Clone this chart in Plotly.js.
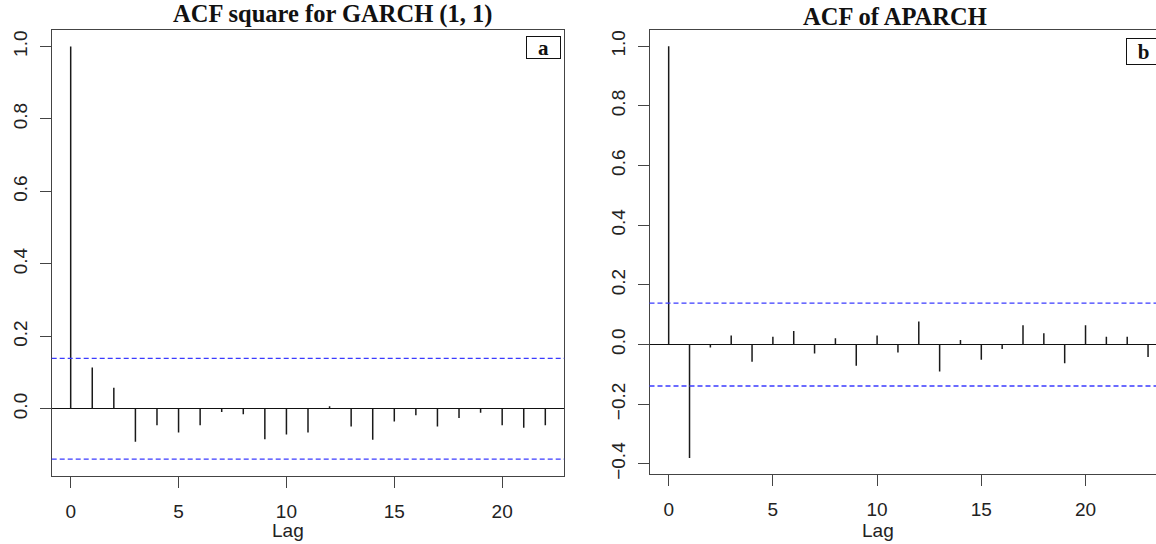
<!DOCTYPE html>
<html>
<head>
<meta charset="utf-8">
<script src="https://cdn.plot.ly/plotly-3.0.1.min.js"></script>
<style>html,body{margin:0;padding:0;background:#fff}#chart{width:1156px;height:544px}</style>
</head>
<body>
<div id="chart"></div>
<script>
// ---- data ----
const lagsA = [0,1,2,3,4,5,6,7,8,9,10,11,12,13,14,15,16,17,18,19,20,21,22];
const acfA  = [1.0, 0.114, 0.058, -0.091, -0.045, -0.065, -0.045, -0.009, -0.015, -0.084, -0.071, -0.065, 0.007, -0.049, -0.085, -0.035, -0.018, -0.049, -0.025, -0.011, -0.045, -0.052, -0.045];
const lagsB = [0,1,2,3,4,5,6,7,8,9,10,11,12,13,14,15,16,17,18,19,20,21,22,23];
const acfB  = [1.0, -0.38, -0.010, 0.030, -0.058, 0.026, 0.045, -0.030, 0.021, -0.071, 0.030, -0.027, 0.077, -0.090, 0.015, -0.051, -0.015, 0.065, 0.038, -0.063, 0.065, 0.026, 0.026, -0.042];
const ciA = 0.139;
const ciB = 0.139;
const titleA = "ACF square for GARCH (1, 1)";
const titleB = "ACF of APARCH";
const panelA = "a";
const panelB = "b";
const xTitle = "Lag";

function spikes(lags, vals) {
  const x = [], y = [];
  lags.forEach((l, i) => { x.push(l, l, null); y.push(0, vals[i], null); });
  return {x, y};
}
function rng(vals, ci) {
  const lo = Math.min(Math.min(...vals), -ci), hi = Math.max(Math.max(...vals), ci);
  const d = (hi - lo) * 0.04;
  return [lo - d, hi + d];
}

const W = 1156, H = 544;
const sA = spikes(lagsA, acfA), sB = spikes(lagsB, acfB);
const spikeLine = {color: '#1a1a1a', width: 1.5};

const traces = [
  {x: sA.x, y: sA.y, type: 'scatter', mode: 'lines', line: spikeLine, xaxis: 'x', yaxis: 'y', hoverinfo: 'skip', showlegend: false},
  {x: sB.x, y: sB.y, type: 'scatter', mode: 'lines', line: spikeLine, xaxis: 'x2', yaxis: 'y2', hoverinfo: 'skip', showlegend: false}
];

const tickFont = {family: 'Liberation Sans, Arial, sans-serif', size: 19, color: '#222'};
const axColor = '#444';
const xA0 = lagsA[0], xA1 = lagsA[lagsA.length - 1];
const xB0 = lagsB[0], xB1 = lagsB[lagsB.length - 1];
const padA = (xA1 - xA0) * 0.04, padB = (xB1 - xB0) * 0.04;

// right panel: plot box continues beyond the image edge
const bLeftPx = 649.5, bLagPx = 20.85, bZeroPx = 668.5;
const xB_right = (W - bZeroPx) / bLagPx;

const commonX = {
  showgrid: false, zeroline: false, showline: true, mirror: true, linecolor: axColor, linewidth: 1,
  ticks: 'outside', ticklen: 11, tickwidth: 1, tickcolor: axColor, tickfont: tickFont,
  tickmode: 'linear', tick0: 0, dtick: 5, ticklabelstandoff: 7
};
const commonY = {
  showgrid: false, zeroline: true, zerolinecolor: '#111', zerolinewidth: 1.3,
  showline: true, linecolor: axColor, linewidth: 1,
  ticks: 'outside', ticklen: 11, tickwidth: 1, tickcolor: axColor, tickfont: tickFont,
  tickmode: 'linear', tick0: 0, dtick: 0.2, tickformat: '.1f', tickangle: -90, ticklabelstandoff: 5
};

const serif = 'Liberation Serif, Times New Roman, serif';
const layout = {
  width: W, height: H,
  margin: {l: 0, r: 0, t: 0, b: 0},
  paper_bgcolor: '#fff', plot_bgcolor: '#fff',
  showlegend: false,
  xaxis: Object.assign({}, commonX, {domain: [51.7 / W, 564.3 / W], range: [xA0 - padA, xA1 + padA], anchor: 'y'}),
  yaxis: Object.assign({}, commonY, {domain: [1 - 475.7 / H, 1 - 30 / H], range: rng(acfA, ciA), mirror: true, anchor: 'x'}),
  xaxis2: Object.assign({}, commonX, {domain: [bLeftPx / W, 1], range: [xB0 - padB, xB_right], anchor: 'y2'}),
  yaxis2: Object.assign({}, commonY, {domain: [1 - 474.4 / H, 1 - 29.7 / H], range: rng(acfB, ciB), mirror: false, anchor: 'x2'}),
  shapes: [
    {type: 'line', xref: 'x domain', yref: 'y', x0: 0, x1: 1, y0: ciA, y1: ciA, line: {color: '#3b3bff', width: 1.3, dash: '5px,3px'}},
    {type: 'line', xref: 'x domain', yref: 'y', x0: 0, x1: 1, y0: -ciA, y1: -ciA, line: {color: '#3b3bff', width: 1.3, dash: '5px,3px'}},
    {type: 'line', xref: 'x2 domain', yref: 'y2', x0: 0, x1: 1, y0: ciB, y1: ciB, line: {color: '#3b3bff', width: 1.3, dash: '5px,3px'}},
    {type: 'line', xref: 'x2 domain', yref: 'y2', x0: 0, x1: 1, y0: -ciB, y1: -ciB, line: {color: '#3b3bff', width: 1.3, dash: '5px,3px'}}
  ],
  annotations: [
    {text: '<b>' + titleA + '</b>', xref: 'paper', yref: 'paper', x: 333 / W, y: 1 - 14.5 / H, xanchor: 'center', yanchor: 'middle', showarrow: false,
     font: {family: serif, size: 24.5, color: '#111'}},
    {text: '<b>' + titleB + '</b>', xref: 'paper', yref: 'paper', x: 895 / W, y: 1 - 16.5 / H, xanchor: 'center', yanchor: 'middle', showarrow: false,
     font: {family: serif, size: 24.5, color: '#111'}},
    {text: xTitle, xref: 'paper', yref: 'paper', x: 288 / W, y: 1 - 530 / H, xanchor: 'center', yanchor: 'middle', showarrow: false, font: tickFont},
    {text: xTitle, xref: 'paper', yref: 'paper', x: 878 / W, y: 1 - 530 / H, xanchor: 'center', yanchor: 'middle', showarrow: false, font: tickFont},
    {text: '<b>' + panelA + '</b>', xref: 'paper', yref: 'paper', x: 543.5 / W, y: 1 - 47 / H, xanchor: 'center', yanchor: 'middle', showarrow: false,
     width: 33, height: 21, bordercolor: '#111', borderwidth: 1, borderpad: 0, bgcolor: '#fff',
     font: {family: serif, size: 21, color: '#111'}},
    {text: '<b>' + panelB + '</b>', xref: 'paper', yref: 'paper', x: 1143 / W, y: 1 - 51.3 / H, xanchor: 'center', yanchor: 'middle', showarrow: false,
     width: 33, height: 25, bordercolor: '#111', borderwidth: 1, borderpad: 0, bgcolor: '#fff',
     font: {family: serif, size: 21, color: '#111'}}
  ]
};

Plotly.newPlot('chart', traces, layout, {staticPlot: true, displayModeBar: false});
</script>
</body>
</html>
